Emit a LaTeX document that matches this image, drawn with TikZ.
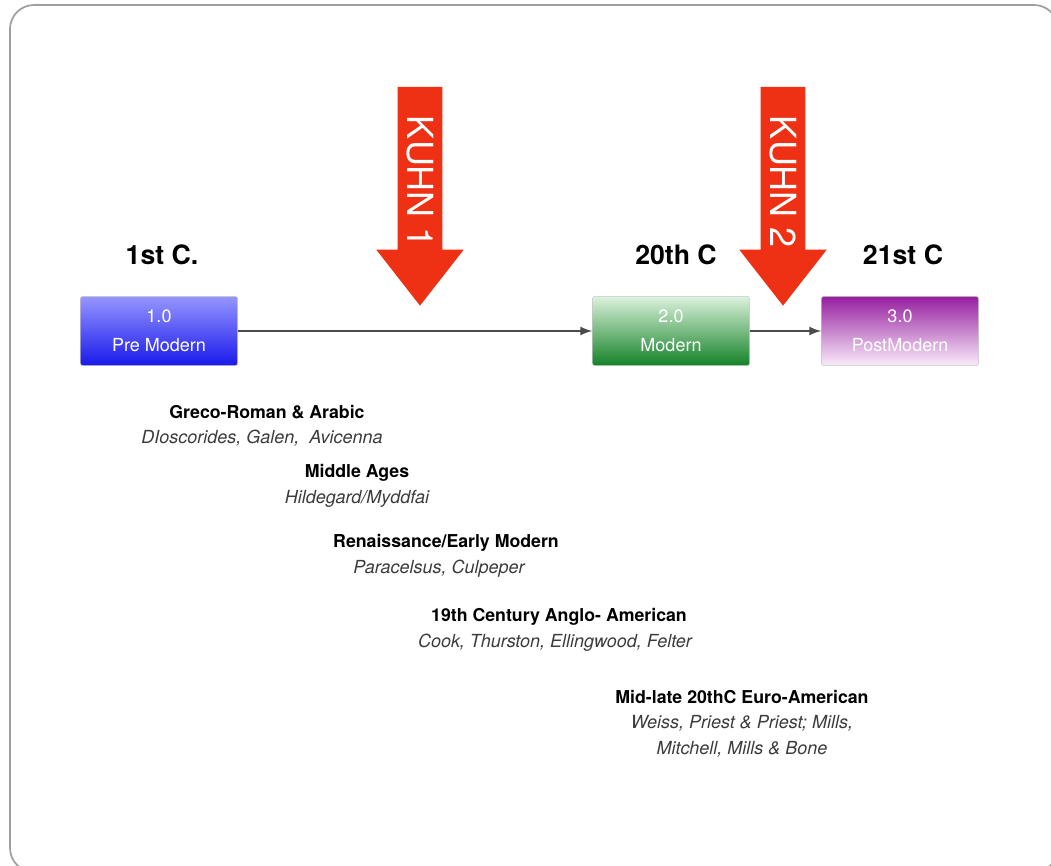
\documentclass[tikz,border=0pt]{standalone}
\usepackage{fontspec}
\setmainfont{TeX Gyre Heros}
\usetikzlibrary{positioning,shapes.arrows}

\definecolor{kuhnred}{RGB}{238,48,20}
\definecolor{namegray}{RGB}{60,60,60}
\definecolor{linegray}{RGB}{75,75,75}

\begin{document}
\begin{tikzpicture}[x=0.75pt,y=-0.75pt,
  era/.style={draw=gray!45, rounded corners=2pt, minimum width=118pt, minimum height=52pt,
              align=center, text=white, inner sep=0pt, font=\fontsize{13.5}{21.5}\selectfont},
  century/.style={font=\bfseries\fontsize{20}{24}\selectfont},
  kuhn/.style={single arrow, fill=kuhnred, text=white, rotate=-90, inner xsep=2pt, inner ysep=6.5pt,
               minimum height=164pt, minimum width=64pt, single arrow head extend=16pt,
               single arrow tip angle=76, font=\fontsize{27}{29}\selectfont},
  school/.style={font=\bfseries\fontsize{13.3}{15}\selectfont},
  names/.style={font=\itshape\fontsize{13.5}{19.5}\selectfont, text=namegray, align=center}
]
\useasboundingbox (0,0) rectangle (1051,866);
\fill[white] (0,0) rectangle (1051,866);

% Frame
\draw[gray!75, line width=1.3pt, rounded corners=18pt] (10,5) rectangle (1058,872);

% Nodes
\node[era, top color={rgb,255:red,150;green,150;blue,255}, bottom color={rgb,255:red,25;green,25;blue,235}]
  (pre) at (159,331) {1.0\\Pre Modern};
\node[era, top color={rgb,255:red,220;green,242;blue,220}, bottom color={rgb,255:red,20;green,130;blue,40}]
  (mod) at (671,331) {2.0\\Modern};
\node[era, top color={rgb,255:red,150;green,30;blue,160}, bottom color={rgb,255:red,250;green,236;blue,250}]
  (post) at (900,331) {3.0\\PostModern};

\node[century] (c1)  at (162,255) {1st C.};
\node[century] (c20) at (676,255) {20th C};
\node[century] (c21) at (903,255) {21st C};

\node[kuhn] (kuhn1) at (420,182) {KUHN 1};
\node[kuhn] (kuhn2) at (783,182) {KUHN 2};

\node[school] (greco) at (267,412) {Greco-Roman \& Arabic};
\node[names]  (grecon) at (262,438) {DIoscorides, Galen,\ \ Avicenna};
\node[school] (middle) at (357,473) {Middle Ages};
\node[names]  (middlen) at (357,499) {Hildegard/Myddfai};
\node[school] (renais) at (446,543) {Renaissance/Early Modern};
\node[names]  (renaisn) at (439,569) {Paracelsus, Culpeper};
\node[school] (anglo) at (559,617) {19th Century Anglo- American};
\node[names]  (anglon) at (555,643) {Cook, Thurston, Ellingwood, Felter};
\node[school] (euro) at (742,697) {Mid-late 20thC Euro-American};
\node[names]  (euron) at (742,736) {Weiss, Priest \& Priest; Mills,\\Mitchell, Mills \& Bone};

% Connect nodes
\draw[->, >=latex, linegray, line width=2pt] (pre) -- (mod);
\draw[->, >=latex, linegray, line width=2pt] (mod) -- (post);

\end{tikzpicture}
\end{document}
